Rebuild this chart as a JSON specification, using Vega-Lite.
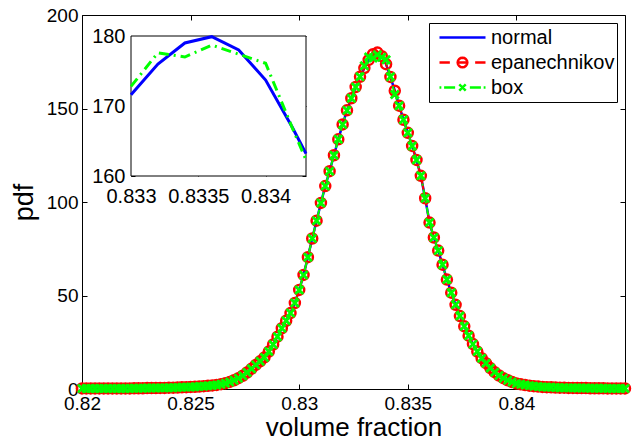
{
  "$schema": "https://vega.github.io/schema/vega-lite/v6.json",
  "width": 543,
  "height": 374,
  "autosize": "none",
  "padding": {"left": 82, "top": 15, "right": 8, "bottom": 54},
  "background": "white",
  "config": {
    "font": "Liberation Sans",
    "view": {"stroke": "black", "strokeWidth": 1},
    "axis": {"labelFont": "Liberation Sans", "titleFont": "Liberation Sans", "labelColor": "black", "titleColor": "black", "tickColor": "black", "domainColor": "black", "titleFontWeight": "normal", "grid": false, "labelFlush": false, "tickWidth": 1}
  },
  "datasets": {
    "main": [
      {"x": 0.8200, "normal": 0.3, "epan": 0.3, "box": 0.3},
      {"x": 0.8202, "normal": 0.3, "epan": 0.3, "box": 0.3},
      {"x": 0.8204, "normal": 0.3, "epan": 0.3, "box": 0.3},
      {"x": 0.8206, "normal": 0.3, "epan": 0.3, "box": 0.3},
      {"x": 0.8208, "normal": 0.3, "epan": 0.3, "box": 0.3},
      {"x": 0.8210, "normal": 0.3, "epan": 0.3, "box": 0.3},
      {"x": 0.8212, "normal": 0.3, "epan": 0.3, "box": 0.3},
      {"x": 0.8214, "normal": 0.3, "epan": 0.3, "box": 0.3},
      {"x": 0.8216, "normal": 0.3, "epan": 0.3, "box": 0.3},
      {"x": 0.8218, "normal": 0.3, "epan": 0.3, "box": 0.3},
      {"x": 0.8220, "normal": 0.3, "epan": 0.3, "box": 0.3},
      {"x": 0.8222, "normal": 0.3, "epan": 0.3, "box": 0.3},
      {"x": 0.8224, "normal": 0.4, "epan": 0.4, "box": 0.4},
      {"x": 0.8226, "normal": 0.4, "epan": 0.4, "box": 0.4},
      {"x": 0.8228, "normal": 0.4, "epan": 0.4, "box": 0.4},
      {"x": 0.8230, "normal": 0.5, "epan": 0.5, "box": 0.5},
      {"x": 0.8232, "normal": 0.5, "epan": 0.5, "box": 0.5},
      {"x": 0.8234, "normal": 0.5, "epan": 0.5, "box": 0.5},
      {"x": 0.8236, "normal": 0.6, "epan": 0.6, "box": 0.6},
      {"x": 0.8238, "normal": 0.6, "epan": 0.6, "box": 0.6},
      {"x": 0.8240, "normal": 0.7, "epan": 0.7, "box": 0.7},
      {"x": 0.8242, "normal": 0.7, "epan": 0.7, "box": 0.7},
      {"x": 0.8244, "normal": 0.8, "epan": 0.8, "box": 0.8},
      {"x": 0.8246, "normal": 0.9, "epan": 0.9, "box": 0.9},
      {"x": 0.8248, "normal": 1.0, "epan": 1.0, "box": 1.0},
      {"x": 0.8250, "normal": 1.1, "epan": 1.1, "box": 1.1},
      {"x": 0.8252, "normal": 1.2, "epan": 1.2, "box": 1.2},
      {"x": 0.8254, "normal": 1.3, "epan": 1.3, "box": 1.3},
      {"x": 0.8256, "normal": 1.5, "epan": 1.5, "box": 1.5},
      {"x": 0.8258, "normal": 1.7, "epan": 1.7, "box": 1.7},
      {"x": 0.8260, "normal": 1.9, "epan": 1.9, "box": 1.9},
      {"x": 0.8262, "normal": 2.2, "epan": 2.2, "box": 2.2},
      {"x": 0.8264, "normal": 2.6, "epan": 2.6, "box": 2.6},
      {"x": 0.8266, "normal": 3.1, "epan": 3.1, "box": 3.1},
      {"x": 0.8268, "normal": 3.8, "epan": 3.8, "box": 3.8},
      {"x": 0.8270, "normal": 4.7, "epan": 4.7, "box": 4.7},
      {"x": 0.8272, "normal": 5.8, "epan": 5.8, "box": 5.8},
      {"x": 0.8274, "normal": 7.1, "epan": 7.1, "box": 7.1},
      {"x": 0.8276, "normal": 8.8, "epan": 8.8, "box": 8.8},
      {"x": 0.8278, "normal": 10.8, "epan": 10.8, "box": 10.8},
      {"x": 0.8280, "normal": 12.9, "epan": 12.9, "box": 12.9},
      {"x": 0.8282, "normal": 14.8, "epan": 14.8, "box": 14.8},
      {"x": 0.8284, "normal": 16.9, "epan": 16.9, "box": 16.9},
      {"x": 0.8286, "normal": 20.0, "epan": 20.0, "box": 20.0},
      {"x": 0.8288, "normal": 23.8, "epan": 23.8, "box": 23.8},
      {"x": 0.8290, "normal": 28.0, "epan": 28.0, "box": 28.0},
      {"x": 0.8292, "normal": 32.5, "epan": 32.5, "box": 32.5},
      {"x": 0.8294, "normal": 36.5, "epan": 36.5, "box": 36.5},
      {"x": 0.8296, "normal": 40.6, "epan": 40.6, "box": 40.6},
      {"x": 0.8298, "normal": 46.0, "epan": 46.0, "box": 46.0},
      {"x": 0.8300, "normal": 53.0, "epan": 53.0, "box": 53.0},
      {"x": 0.8302, "normal": 61.0, "epan": 61.0, "box": 61.0},
      {"x": 0.8304, "normal": 70.5, "epan": 70.5, "box": 70.5},
      {"x": 0.8306, "normal": 80.5, "epan": 80.5, "box": 80.5},
      {"x": 0.8308, "normal": 90.0, "epan": 90.0, "box": 90.0},
      {"x": 0.8310, "normal": 99.5, "epan": 99.5, "box": 99.5},
      {"x": 0.8312, "normal": 108.5, "epan": 108.5, "box": 108.5},
      {"x": 0.8314, "normal": 116.5, "epan": 116.5, "box": 116.5},
      {"x": 0.8316, "normal": 125.0, "epan": 125.0, "box": 125.0},
      {"x": 0.8318, "normal": 133.5, "epan": 133.5, "box": 133.5},
      {"x": 0.8320, "normal": 141.5, "epan": 141.5, "box": 141.5},
      {"x": 0.8322, "normal": 149.0, "epan": 149.0, "box": 149.0},
      {"x": 0.8324, "normal": 155.5, "epan": 155.5, "box": 155.5},
      {"x": 0.8326, "normal": 161.5, "epan": 161.5, "box": 161.5},
      {"x": 0.8328, "normal": 167.0, "epan": 167.0, "box": 167.0},
      {"x": 0.8330, "normal": 171.6, "epan": 171.6, "box": 172.8},
      {"x": 0.8332, "normal": 176.0, "epan": 176.0, "box": 177.6},
      {"x": 0.8334, "normal": 179.0, "epan": 179.0, "box": 177.0},
      {"x": 0.8336, "normal": 179.9, "epan": 179.9, "box": 178.7},
      {"x": 0.8338, "normal": 178.0, "epan": 178.0, "box": 177.4},
      {"x": 0.8340, "normal": 173.7, "epan": 173.7, "box": 176.1},
      {"x": 0.8342, "normal": 166.9, "epan": 166.9, "box": 167.0},
      {"x": 0.8344, "normal": 159.5, "epan": 159.5, "box": 157.5},
      {"x": 0.8346, "normal": 151.5, "epan": 151.5, "box": 151.5},
      {"x": 0.8348, "normal": 144.0, "epan": 144.0, "box": 144.0},
      {"x": 0.8350, "normal": 137.0, "epan": 137.0, "box": 137.0},
      {"x": 0.8352, "normal": 130.0, "epan": 130.0, "box": 130.0},
      {"x": 0.8354, "normal": 122.5, "epan": 122.5, "box": 122.5},
      {"x": 0.8356, "normal": 114.0, "epan": 114.0, "box": 114.0},
      {"x": 0.8358, "normal": 102.0, "epan": 102.0, "box": 102.0},
      {"x": 0.8360, "normal": 89.0, "epan": 89.0, "box": 89.0},
      {"x": 0.8362, "normal": 81.0, "epan": 81.0, "box": 81.0},
      {"x": 0.8364, "normal": 74.0, "epan": 74.0, "box": 74.0},
      {"x": 0.8366, "normal": 66.5, "epan": 66.5, "box": 66.5},
      {"x": 0.8368, "normal": 58.5, "epan": 58.5, "box": 58.5},
      {"x": 0.8370, "normal": 51.5, "epan": 51.5, "box": 51.5},
      {"x": 0.8372, "normal": 45.0, "epan": 45.0, "box": 45.0},
      {"x": 0.8374, "normal": 39.0, "epan": 39.0, "box": 39.0},
      {"x": 0.8376, "normal": 33.5, "epan": 33.5, "box": 33.5},
      {"x": 0.8378, "normal": 28.5, "epan": 28.5, "box": 28.5},
      {"x": 0.8380, "normal": 24.0, "epan": 24.0, "box": 24.0},
      {"x": 0.8382, "normal": 20.0, "epan": 20.0, "box": 20.0},
      {"x": 0.8384, "normal": 16.5, "epan": 16.5, "box": 16.5},
      {"x": 0.8386, "normal": 13.8, "epan": 13.8, "box": 13.8},
      {"x": 0.8388, "normal": 11.2, "epan": 11.2, "box": 11.2},
      {"x": 0.8390, "normal": 9.0, "epan": 9.0, "box": 9.0},
      {"x": 0.8392, "normal": 7.2, "epan": 7.2, "box": 7.2},
      {"x": 0.8394, "normal": 5.8, "epan": 5.8, "box": 5.8},
      {"x": 0.8396, "normal": 4.7, "epan": 4.7, "box": 4.7},
      {"x": 0.8398, "normal": 3.8, "epan": 3.8, "box": 3.8},
      {"x": 0.8400, "normal": 3.0, "epan": 3.0, "box": 3.0},
      {"x": 0.8402, "normal": 2.5, "epan": 2.5, "box": 2.5},
      {"x": 0.8404, "normal": 2.1, "epan": 2.1, "box": 2.1},
      {"x": 0.8406, "normal": 1.8, "epan": 1.8, "box": 1.8},
      {"x": 0.8408, "normal": 1.5, "epan": 1.5, "box": 1.5},
      {"x": 0.8410, "normal": 1.3, "epan": 1.3, "box": 1.3},
      {"x": 0.8412, "normal": 1.1, "epan": 1.1, "box": 1.1},
      {"x": 0.8414, "normal": 1.0, "epan": 1.0, "box": 1.0},
      {"x": 0.8416, "normal": 0.9, "epan": 0.9, "box": 0.9},
      {"x": 0.8418, "normal": 0.8, "epan": 0.8, "box": 0.8},
      {"x": 0.8420, "normal": 0.7, "epan": 0.7, "box": 0.7},
      {"x": 0.8422, "normal": 0.7, "epan": 0.7, "box": 0.7},
      {"x": 0.8424, "normal": 0.6, "epan": 0.6, "box": 0.6},
      {"x": 0.8426, "normal": 0.6, "epan": 0.6, "box": 0.6},
      {"x": 0.8428, "normal": 0.5, "epan": 0.5, "box": 0.5},
      {"x": 0.8430, "normal": 0.5, "epan": 0.5, "box": 0.5},
      {"x": 0.8432, "normal": 0.5, "epan": 0.5, "box": 0.5},
      {"x": 0.8434, "normal": 0.4, "epan": 0.4, "box": 0.4},
      {"x": 0.8436, "normal": 0.4, "epan": 0.4, "box": 0.4},
      {"x": 0.8438, "normal": 0.4, "epan": 0.4, "box": 0.4},
      {"x": 0.8440, "normal": 0.4, "epan": 0.4, "box": 0.4},
      {"x": 0.8442, "normal": 0.3, "epan": 0.3, "box": 0.3},
      {"x": 0.8444, "normal": 0.3, "epan": 0.3, "box": 0.3},
      {"x": 0.8446, "normal": 0.3, "epan": 0.3, "box": 0.3},
      {"x": 0.8448, "normal": 0.3, "epan": 0.3, "box": 0.3},
      {"x": 0.8450, "normal": 0.3, "epan": 0.3, "box": 0.3}
    ],
    "inset": [
      {"x": 0.8330, "normal": 171.6, "box": 172.8},
      {"x": 0.8332, "normal": 176.0, "box": 177.6},
      {"x": 0.8334, "normal": 179.0, "box": 177.0},
      {"x": 0.8336, "normal": 179.9, "box": 178.7},
      {"x": 0.8338, "normal": 178.0, "box": 177.4},
      {"x": 0.8340, "normal": 173.7, "box": 176.1},
      {"x": 0.8342, "normal": 166.9, "box": 166.8},
      {"x": 0.8343, "normal": 163.2, "box": 162.3}
    ],
    "frame": [
      {"x1": 0.833, "x2": 0.8343, "y1": 160, "y2": 180}
    ]
  },
  "layer": [
    {
      "data": {"name": "main"},
      "layer": [
        {
          "mark": {"type": "line", "strokeWidth": 2.5},
          "encoding": {
            "x": {"field": "x", "type": "quantitative", "scale": {"domain": [0.82, 0.845], "nice": false, "zero": false},
              "axis": {"orient": "bottom", "values": [0.82, 0.825, 0.83, 0.835, 0.84], "format": "~g", "labelFontSize": 19, "tickSize": -5, "labelPadding": 10, "domain": false, "title": "volume fraction", "titleFontSize": 26, "titlePadding": 1}},
            "y": {"field": "normal", "type": "quantitative", "scale": {"domain": [0, 200], "nice": false},
              "axis": {"orient": "left", "values": [0, 50, 100, 150, 200], "labelFontSize": 19, "tickSize": -5, "labelPadding": 9, "domain": false, "title": "pdf", "titleFontSize": 27, "titlePadding": 8}},
            "color": {"datum": "normal", "type": "nominal",
              "scale": {"domain": ["normal", "epanechnikov", "box"], "range": ["#0000ff", "#ff0000", "#00ff00"]},
              "legend": {
                "orient": "top-right", "offset": 8, "title": null,
                "padding": 2, "strokeColor": "black", "fillColor": "white",
                "labelFont": "Liberation Sans", "labelFontSize": 20, "labelColor": "black",
                "symbolSize": 2116, "symbolStrokeWidth": 2.5, "symbolOffset": 7, "labelOffset": 4,
                "clipHeight": 25, "rowPadding": 0,
                "symbolType": "M-1,0L1,0",
                "encode": {"symbols": {"update": {
                  "shape": {"signal": "datum.value === 'normal' ? 'M-1,0L1,0' : (datum.value === 'epanechnikov' ? 'M-1,0L-0.55,0M0.55,0L1,0M-0.21,0L0.21,0M0.21,0L0.194,0.08L0.148,0.148L0.08,0.194L0,0.21L-0.08,0.194L-0.148,0.148L-0.194,0.08L-0.21,0L-0.194,-0.08L-0.148,-0.148L-0.08,-0.194L0,-0.21L0.08,-0.194L0.148,-0.148L0.194,-0.08Z' : 'M-1,0L-0.92,0M-0.8,0L-0.32,0M0.32,0L0.8,0M0.92,0L1,0M-0.14,-0.14L0.14,0.14M0.14,-0.14L-0.14,0.14')"},
                  "fill": {"value": "transparent"},
                  "strokeDash": {"value": []}
                }}}
              }}
          }
        },
        {
          "mark": {"type": "line", "strokeWidth": 2, "strokeDash": [10, 6]},
          "encoding": {
            "x": {"field": "x", "type": "quantitative", "axis": {"orient": "top", "values": [0.82, 0.825, 0.83, 0.835, 0.84], "labels": false, "tickSize": -5, "domain": false, "title": null}},
            "y": {"field": "epan", "type": "quantitative", "axis": {"orient": "right", "values": [0, 50, 100, 150, 200], "labels": false, "tickSize": -5, "domain": false, "title": null}},
            "color": {"datum": "epanechnikov", "type": "nominal"}
          }
        },
        {
          "mark": {"type": "point", "filled": false, "shape": "circle", "size": 100, "strokeWidth": 2.5, "opacity": 1},
          "encoding": {
            "x": {"field": "x", "type": "quantitative", "axis": null},
            "y": {"field": "epan", "type": "quantitative", "axis": null},
            "color": {"datum": "epanechnikov", "type": "nominal"}
          }
        },
        {
          "mark": {"type": "line", "strokeWidth": 2, "strokeDash": [8, 4, 2, 4]},
          "encoding": {
            "x": {"field": "x", "type": "quantitative", "axis": null},
            "y": {"field": "box", "type": "quantitative", "axis": null},
            "color": {"datum": "box", "type": "nominal"}
          }
        },
        {
          "mark": {"type": "point", "filled": false, "shape": "M-1,-1L1,1M1,-1L-1,1", "size": 64, "strokeWidth": 2.8, "opacity": 1},
          "encoding": {
            "x": {"field": "x", "type": "quantitative", "axis": null},
            "y": {"field": "box", "type": "quantitative", "axis": null},
            "color": {"datum": "box", "type": "nominal"}
          }
        }
      ],
      "resolve": {"axis": {"x": "independent", "y": "independent"}}
    },
    {
      "layer": [
        {
          "data": {"name": "frame"},
          "mark": {"type": "rect", "fill": "white", "stroke": "black", "strokeWidth": 1},
          "encoding": {
            "x": {"field": "x1", "type": "quantitative", "scale": {"domain": [0.833, 0.8343], "range": [49, 224], "nice": false, "zero": false},
              "axis": {"orient": "bottom", "offset": -213, "values": [0.833, 0.8335, 0.834], "format": "~g", "labelFontSize": 20, "tickSize": -4, "labelPadding": 14, "domain": false, "title": null}},
            "x2": {"field": "x2"},
            "y": {"field": "y1", "type": "quantitative", "scale": {"domain": [160, 180], "range": [161, 21], "nice": false, "zero": false},
              "axis": {"orient": "left", "offset": -49, "values": [160, 170, 180], "labelFontSize": 20, "tickSize": -4, "labelPadding": 10, "domain": false, "title": null}},
            "y2": {"field": "y2"}
          }
        },
        {
          "data": {"name": "inset"},
          "mark": {"type": "line", "strokeWidth": 3, "color": "#0000ff"},
          "encoding": {
            "x": {"field": "x", "type": "quantitative", "axis": {"orient": "top", "offset": -21, "values": [0.833, 0.8335, 0.834], "labels": false, "tickSize": -4, "domain": false, "title": null}},
            "y": {"field": "normal", "type": "quantitative", "axis": {"orient": "right", "offset": -319, "values": [160, 170, 180], "labels": false, "tickSize": -4, "domain": false, "title": null}}
          }
        },
        {
          "data": {"name": "inset"},
          "mark": {"type": "line", "strokeWidth": 3, "color": "#00ff00", "strokeDash": [10, 5, 2, 5]},
          "encoding": {
            "x": {"field": "x", "type": "quantitative", "axis": null},
            "y": {"field": "box", "type": "quantitative", "axis": null}
          }
        }
      ],
      "resolve": {"axis": {"x": "independent", "y": "independent"}}
    }
  ],
  "resolve": {"scale": {"x": "independent", "y": "independent"}}
}
